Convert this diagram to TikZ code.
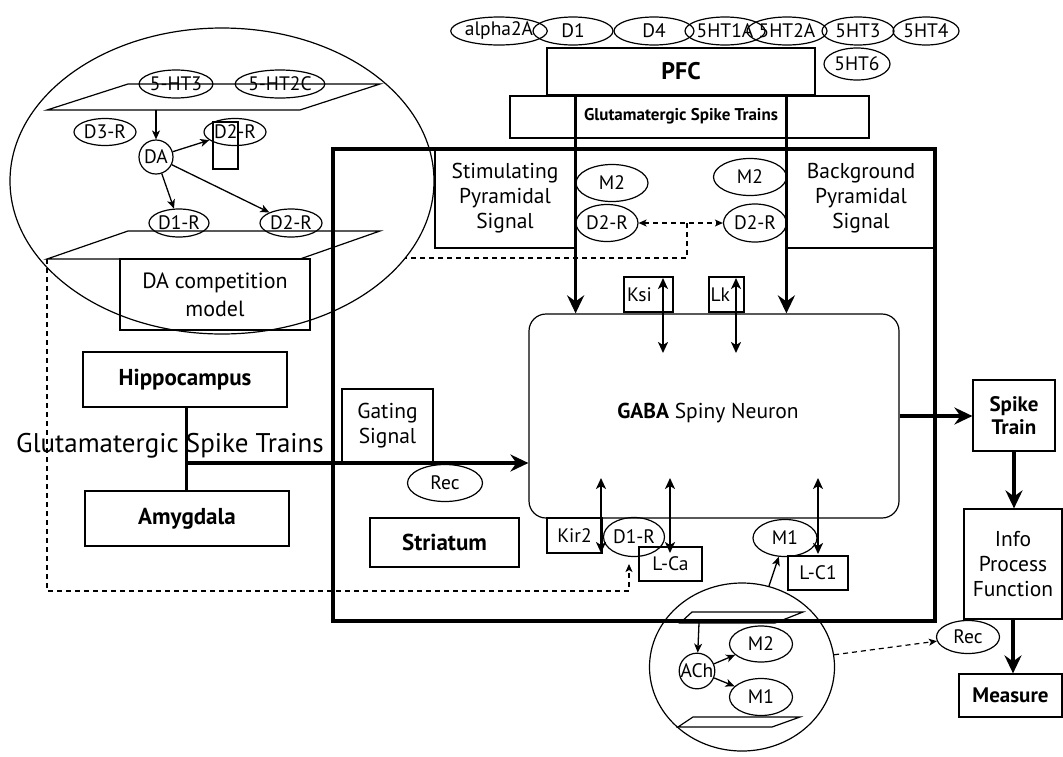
\documentclass[tikz,border=0pt]{standalone}
\usepackage{fontspec}
\setmainfont{PT Sans}
\usetikzlibrary{shapes.geometric,arrows.meta,calc}
\tikzset{
  bx/.style={draw, line width=1.2pt, rectangle, inner sep=0pt, align=center},
  el/.style={draw, line width=1.2pt, ellipse, inner sep=0pt},
  lbl/.style={font=\fontsize{19.5}{23}\selectfont},
  txt/.style={font=\fontsize{21.5}{25}\selectfont},
  bld/.style={font=\fontsize{23}{25}\selectfont\bfseries},
  bigarrow/.style={line width=3.5pt, -{Stealth[length=18pt,width=17pt,inset=6pt]}},
  thinarrow/.style={line width=1.3pt, -{Stealth[length=9pt,width=8pt,inset=2.5pt]}},
  dblarrow/.style={line width=2pt, {Stealth[length=11pt,width=10pt,inset=3pt]}-{Stealth[length=11pt,width=10pt,inset=3pt]}},
  dsh/.style={line width=1.2pt, dash pattern=on 5pt off 4pt},
  plane/.style={line width=1.2pt},
}
\begin{document}
\begin{tikzpicture}[x=1pt,y=-1pt]
\useasboundingbox (0,0) rectangle (1063,756);

% ---------- DA competition ellipse ----------
\node[el, minimum width=424, minimum height=306] (DAell) at (222,181) {};
\draw[plane] (47,110) -- (128,84) -- (380,84) -- (300,110) -- cycle;
\draw[plane] (47,259) -- (128,231) -- (380,231) -- (300,259) -- cycle;
\coordinate (planeA) at (156,110);
\coordinate (planeAcorner) at (47,259);
\node[el, lbl, minimum width=72, minimum height=28] (HTthree) at (176,84) {5-HT3};
\node[el, lbl, minimum width=72, minimum height=28] (HTtwoC) at (280,84) {5-HT2C};
\node[el, lbl, minimum width=62, minimum height=27] (DthreeR) at (105,132) {D3-R};
\node[el, lbl, minimum width=62, minimum height=27] (DtwoRa) at (235,132) {D2-R};
\node[bx, minimum width=25, minimum height=47] (smallrect) at (225.5,145.5) {};
\node[draw, circle, line width=1.2pt, lbl, inner sep=0pt, minimum size=34] (DA) at (156,157) {DA};
\node[el, lbl, minimum width=60, minimum height=28] (DoneRa) at (179,223) {D1-R};
\node[el, lbl, minimum width=62, minimum height=28] (DtwoRb) at (291,223) {D2-R};
\node[bx, minimum width=190, minimum height=71, font=\fontsize{22}{28}\selectfont] (DAmodel) at (215,294.5) {DA competition\\model};
\draw[thinarrow] (planeA) -- (DA);
\draw[thinarrow] (DA) -- (DtwoRa);
\draw[thinarrow] (DA) -- (DoneRa);
\draw[thinarrow] (DA) -- (DtwoRb);

% ---------- PFC ----------
\node[el, lbl, minimum width=72, minimum height=28] (alpha) at (499,31) {alpha2A};
\node[el, lbl, minimum width=80, minimum height=28] (PDone) at (573,31) {D1};
\node[el, lbl, minimum width=80, minimum height=28] (PDfour) at (654,31) {D4};
\node[el, lbl, minimum width=68, minimum height=28] (HToneA) at (725,31) {5HT1A};
\node[el, lbl, minimum width=70, minimum height=28] (HTtwoA) at (787,31) {5HT2A};
\node[el, lbl, minimum width=72, minimum height=28] (HTthreeP) at (858,31) {5HT3};
\node[el, lbl, minimum width=66, minimum height=28] (HTfour) at (926,31) {5HT4};
\node[el, lbl, minimum width=66, minimum height=32] (HTsix) at (857,64) {5HT6};
\node[bx, minimum width=268, minimum height=47, font=\fontsize{24}{26}\selectfont\bfseries] (PFC) at (681,71.5) {PFC};
\node[bx, minimum width=359, minimum height=42] (GlutBox) at (689.5,117) {};
\node[font=\fontsize{17}{20}\selectfont\bfseries] (GlutTxt) at (681,116) {Glutamatergic Spike Trains};

% ---------- Striatum ----------
\node[draw, rectangle, line width=3.5pt, inner sep=0pt, minimum width=602, minimum height=472] (Str) at (634,385) {};
\node[bx, txt, minimum width=140, minimum height=99] (SPS) at (505,198.5) {Stimulating\\Pyramidal\\Signal};
\node[bx, txt, minimum width=148, minimum height=99] (BPS) at (861,198.5) {Background\\Pyramidal\\Signal};
\node[el, lbl, minimum width=72, minimum height=37] (MtwoL) at (612,183) {M2};
\node[el, lbl, minimum width=62, minimum height=37] (DtwoRL) at (607,223) {D2-R};
\node[el, lbl, minimum width=73, minimum height=37] (MtwoR) at (750,177) {M2};
\node[el, lbl, minimum width=63, minimum height=38] (DtwoRR) at (755,223) {D2-R};
\node[draw, rectangle, rounded corners=17pt, line width=1.2pt, minimum width=370, minimum height=204, inner sep=0pt] (GABA) at (714,416) {};
\node[font=\fontsize{21.5}{25}\selectfont] (GABAtxt) at (708,413) {\textbf{GABA} Spiny Neuron};
\node[bx, lbl, minimum width=49, minimum height=35, text width=43, inner xsep=3pt, align=left] (Ksi) at (648.5,294.5) {Ksi};
\node[bx, lbl, minimum width=35, minimum height=35, text width=32, inner xsep=1.5pt, align=left] (Lk) at (726.5,294.5) {Lk};
\node[bx, txt, minimum width=91, minimum height=74] (Gating) at (387.5,426) {Gating\\Signal};
\node[el, lbl, minimum width=75, minimum height=37] (RecG) at (445,483) {Rec};
\node[bx, bld, minimum width=149, minimum height=49] (StrLbl) at (444.5,542.5) {Striatum};
\node[bx, lbl, minimum width=55, minimum height=35] (Kir) at (574.5,535.5) {Kir2};
\node[el, lbl, minimum width=61, minimum height=39] (DoneR) at (634,537) {D1-R};
\node[bx, lbl, minimum width=63, minimum height=34] (LCa) at (670.5,564) {L-Ca};
\node[el, lbl, minimum width=64, minimum height=37] (Mone) at (785,538) {M1};
\node[bx, lbl, minimum width=60, minimum height=34] (LCone) at (818,573) {L-C1};

% ---------- Hippocampus / Amygdala ----------
\node[bx, bld, minimum width=204, minimum height=55] (Hpc) at (185,379.5) {Hippocampus};
\node[bx, bld, minimum width=204, minimum height=55] (Amy) at (187,518.5) {Amygdala};
\node[font=\fontsize{27}{30}\selectfont, inner sep=0pt] (GlutBig) at (170,446) {Glutamatergic Spike Trains};
\coordinate (jn) at (186,463);

% ---------- output chain ----------
\node[bx, minimum width=82, minimum height=71, font=\fontsize{21}{23}\selectfont\bfseries] (Spike) at (1014,415.5) {Spike\\Train};
\node[bx, txt, minimum width=98, minimum height=110] (Info) at (1013,564) {Info\\Process\\Function};
\node[bx, minimum width=103, minimum height=43, font=\fontsize{21}{23}\selectfont\bfseries] (Measure) at (1010.5,695.5) {Measure};
\node[el, lbl, minimum width=63, minimum height=33] (RecR) at (968,637) {Rec};

% ---------- ACh circle ----------
\node[el, minimum width=185, minimum height=168] (AChBig) at (742,667) {};
\draw[plane] (680,623) -- (692,612) -- (803,612) -- (775,623) -- cycle;
\draw[plane] (678,727) -- (693,717) -- (800,717) -- (772,727) -- cycle;
\coordinate (planeB) at (699,623);
\node[draw, circle, line width=1.2pt, lbl, inner sep=0pt, minimum size=34] (ACh) at (697,671) {ACh};
\node[el, lbl, minimum width=63, minimum height=36] (MtwoI) at (761,644) {M2};
\node[el, lbl, minimum width=63, minimum height=37] (MoneI) at (761,697) {M1};
\draw[thinarrow] (planeB) -- (ACh);
\draw[thinarrow] (ACh) -- (MtwoI);
\draw[thinarrow] (ACh) -- (MoneI);
\draw[thinarrow] (AChBig) -- (Mone);
\draw[dsh, -{Stealth[length=8pt,width=7pt,inset=2pt]}] (AChBig) -- (RecR);

% ---------- main connectors ----------
\draw[line width=3pt] (Hpc.south -| jn) -- (Amy.north -| jn);
\draw[bigarrow] (jn) -- (jn -| GABA.west);
\draw[bigarrow] (PFC.south -| SPS.east) -- (SPS.east |- GABA.north);
\draw[bigarrow] (PFC.south -| BPS.west) -- (BPS.west |- GABA.north);
\draw[bigarrow] (GABA.east) -- (GABA.east -| Spike.west);
\draw[bigarrow] (Spike.south) -- (Spike.south |- Info.north);
\draw[bigarrow] (Info.south) -- (Info.south |- Measure.north);

% ---------- ion channel arrows ----------
\coordinate (ksiT) at (663,278); \coordinate (ksiB) at (663,353);
\coordinate (lkT) at (736,278); \coordinate (lkB) at (736,353);
\coordinate (kirT) at (601,478); \coordinate (kirB) at (601,553);
\coordinate (lcaT) at (670,478); \coordinate (lcaB) at (670,553);
\coordinate (lcoT) at (818,478); \coordinate (lcoB) at (818,554);
\draw[dblarrow] (ksiT) -- (ksiB);
\draw[dblarrow] (lkT) -- (lkB);
\draw[dblarrow] (kirT) -- (kirB);
\draw[dblarrow] (lcaT) -- (lcaB);
\draw[dblarrow] (lcoT) -- (lcoB);

% ---------- dashed feedback ----------
\draw[dsh, {Stealth[length=8pt,width=7pt,inset=2pt]}-{Stealth[length=8pt,width=7pt,inset=2pt]}] (DtwoRL) -- (DtwoRR);
\coordinate (dmid) at (687,223);
\coordinate (dEll) at (405,258);
\draw[dsh] (dmid) -- (dmid |- dEll) -- (dEll);
\coordinate (dTip) at (629,564);
\draw[dsh, -{Stealth[length=8pt,width=7pt,inset=2pt]}] (planeAcorner) -- (47,591) -- (dTip |- 0,591) -- (dTip);
\end{tikzpicture}
\end{document}
